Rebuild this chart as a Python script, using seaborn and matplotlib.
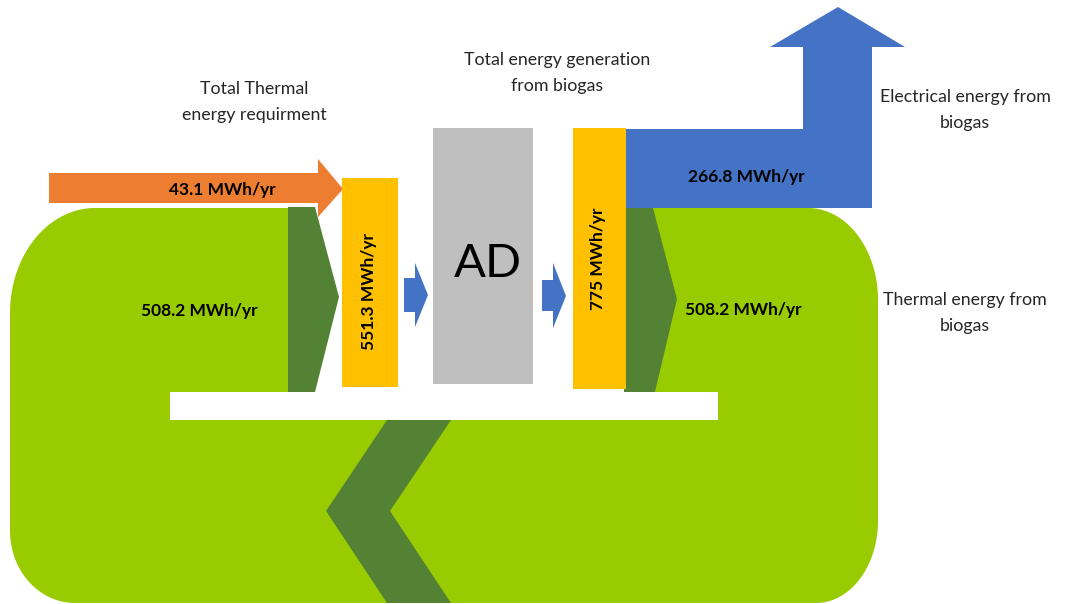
import numpy as np
import matplotlib
matplotlib.use("Agg")
import matplotlib.pyplot as plt
from matplotlib.patches import Polygon, Rectangle
import seaborn as sns

sns.set_theme(style="white")
plt.rcParams['font.family'] = ['Lato', 'DejaVu Sans']

# ---- data ----
flow_names = ["Thermal input", "Thermal recovered (in)", "Total thermal requirement",
              "Total generation", "Electrical output", "Thermal recovered (out)"]
flow_values = [43.1, 508.2, 551.3, 775, 266.8, 508.2]
unit = "MWh/yr"
node_labels = ["Total Thermal\nenergy requirment", "Total energy generation\nfrom biogas",
               "Electrical energy from\nbiogas", "Thermal energy from\nbiogas"]
digester_label = "AD"

def fmt(v):
    s = f"{v:g}"
    return f"{s} {unit}"

# ---- colours ----
GREEN = "#99CC00"
DGREEN = "#548235"
ORANGE = "#ED7D31"
YELLOW = "#FFC000"
GREY = "#BFBFBF"
BLUE = "#4472C4"
TXT = "#262626"

W, H = 1071, 604
fig = plt.figure(figsize=(W / 100, H / 100), dpi=100)
ax = fig.add_axes([0, 0, 1, 1])
ax.set_xlim(0, W)
ax.set_ylim(H, 0)
ax.axis("off")

def rounded_rect(x0, y0, x1, y1, tl, tr, br, bl, n=40):
    pts = []
    def arc(cx, cy, rx, ry, a0, a1):
        t = np.radians(np.linspace(a0, a1, n))
        return list(zip(cx + rx * np.cos(t), cy + ry * np.sin(t)))
    pts += arc(x0 + tl[0], y0 + tl[1], tl[0], tl[1], 180, 270)
    pts += arc(x1 - tr[0], y0 + tr[1], tr[0], tr[1], 270, 360)
    pts += arc(x1 - br[0], y1 - br[1], br[0], br[1], 0, 90)
    pts += arc(x0 + bl[0], y1 - bl[1], bl[0], bl[1], 90, 180)
    return pts

def poly(pts, color, z=2):
    ax.add_patch(Polygon(pts, closed=True, facecolor=color, edgecolor="none", zorder=z))

# big green loop
poly(rounded_rect(10, 208, 878, 603, (85, 105), (70, 92), (62, 82), (65, 72)), GREEN, 1)
# hollow area between the two dark-green arrows
ax.add_patch(Rectangle((315, 200), 626 - 315, 392 - 200, facecolor="white", edgecolor="none", zorder=1.5))

# dark green arrows
poly([(288, 207), (315, 207), (339, 297), (315, 392), (288, 392)], DGREEN)
poly([(626, 208), (653, 208), (677, 299), (655, 392), (624, 392)], DGREEN)
# return chevron
poly([(387, 420), (451, 420), (390, 511), (451, 603), (387, 603), (326, 511)], DGREEN)
# white bar
ax.add_patch(Rectangle((170, 392), 718 - 170, 28, facecolor="white", edgecolor="none", zorder=3))

# orange arrow
poly([(49, 173), (318, 173), (318, 159), (343, 189), (318, 217), (318, 203), (49, 203)], ORANGE, 4)

# yellow bars
ax.add_patch(Rectangle((342, 178), 56, 209, facecolor=YELLOW, edgecolor="none", zorder=4))
ax.add_patch(Rectangle((573, 128), 53, 261, facecolor=YELLOW, edgecolor="none", zorder=4))

# grey AD box
ax.add_patch(Rectangle((433, 128), 100, 256, facecolor=GREY, edgecolor="none", zorder=4))

# small blue arrows
poly([(404, 278), (415, 278), (415, 263), (428, 295), (415, 327), (415, 312), (404, 312)], BLUE, 4)
poly([(542, 280), (553, 280), (553, 263), (566, 296), (553, 328), (553, 311), (542, 311)], BLUE, 4)

# big blue electrical arrow
poly([(626, 129), (803, 129), (803, 47), (770, 47), (838, 7), (905, 47), (872, 47),
      (872, 208), (626, 208)], BLUE, 4)

# value labels
bold = dict(fontweight="bold", color="black", fontsize=12.5, ha="center", va="center", zorder=6)
ax.text(222, 190, fmt(flow_values[0]), **bold)
ax.text(199, 311, fmt(flow_values[1]), **bold)
ax.text(369, 292, fmt(flow_values[2]), rotation=90, **bold)
ax.text(598, 259, fmt(flow_values[3]), rotation=90, **bold)
ax.text(746, 177, fmt(flow_values[4]), **bold)
ax.text(743, 310, fmt(flow_values[5]), **bold)

ax.text(488, 264, digester_label, fontsize=34, color="black", ha="center", va="center", zorder=6)

norm = dict(fontsize=12.8, color=TXT, ha="center", va="center", linespacing=1.8, zorder=6)
ax.text(254, 102, node_labels[0], **norm)
ax.text(557, 73, node_labels[1], **norm)
ax.text(965, 110, node_labels[2], **norm)
ax.text(965, 313, node_labels[3], **norm)

fig.savefig("out.png", dpi=100, facecolor="white")
